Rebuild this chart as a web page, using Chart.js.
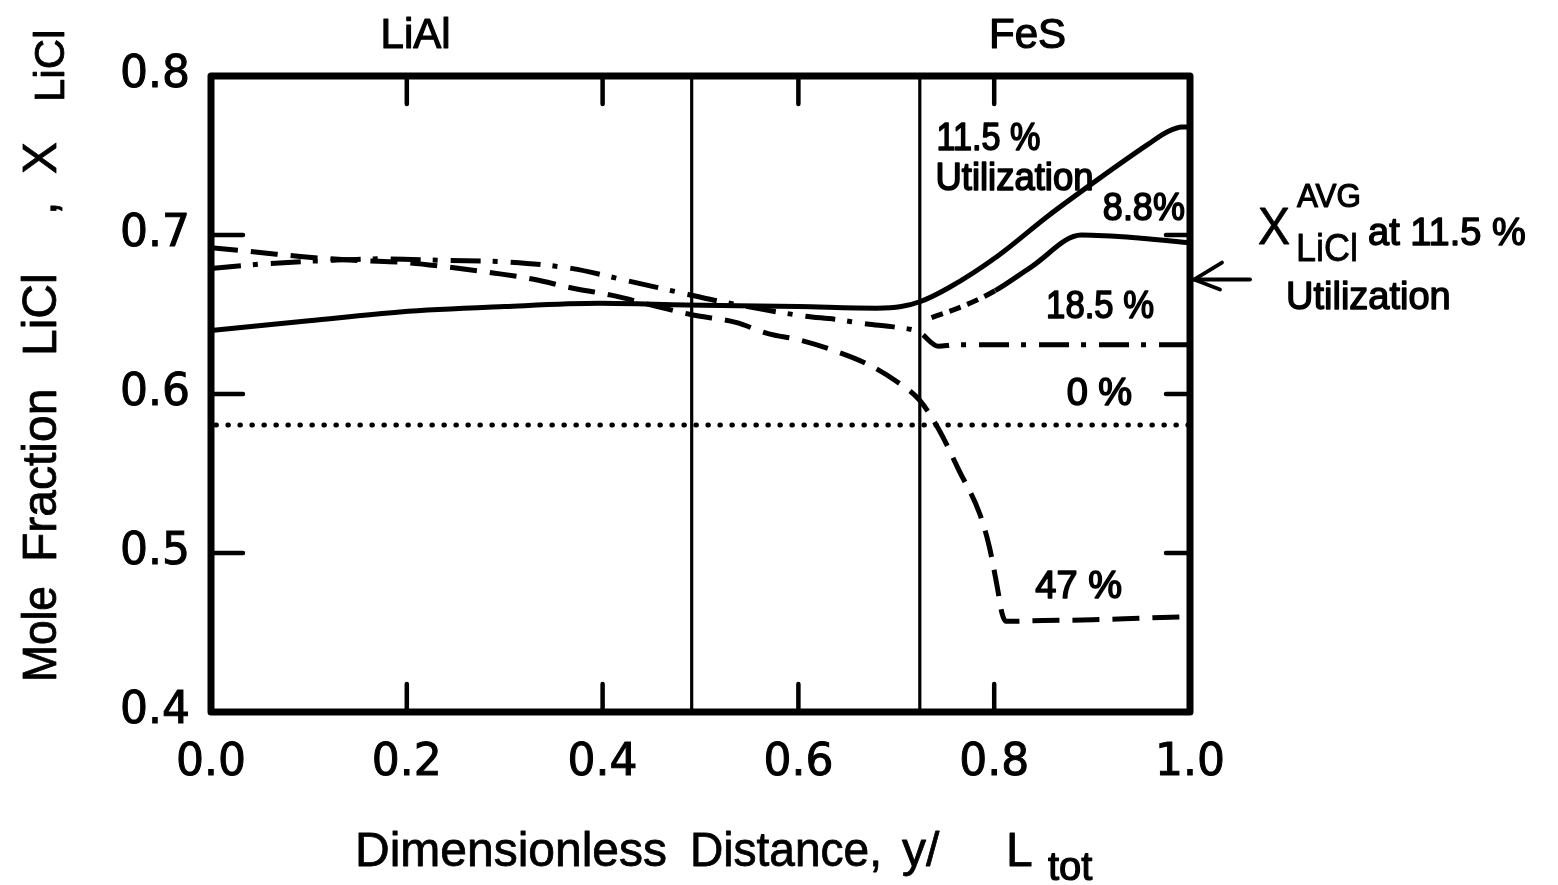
<!DOCTYPE html>
<html><head><meta charset="utf-8">
<script src="https://cdn.jsdelivr.net/npm/chart.js@4.4.0/dist/chart.umd.min.js"></script>
<style>html,body{margin:0;padding:0;background:#fff;overflow:hidden}#wrap{width:1558px;height:885px;position:relative}</style>
</head><body><div id="wrap"><canvas id="c" width="1558" height="885"></canvas></div>
<script>
// ---- data ----
const xTicks = [0, 0.2, 0.4, 0.6, 0.8, 1.0];
const yTicks = [0.4, 0.5, 0.6, 0.7, 0.8];
const innerXTicks = [0.2, 0.4, 0.6, 0.8];
const innerYTicks = [0.5, 0.6, 0.7];
const separators = [0.491, 0.724];
const regionLabels = ['LiAl', 'FeS'];
const regionCenters = [0.209, 0.834];

const dist115 = [0, 0.1, 0.193, 0.3, 0.397, 0.485, 0.6, 0.68, 0.705, 0.724, 0.754, 0.804, 0.855, 0.906, 0.957, 0.977, 0.992, 1.0];
const frac115 = [0.640, 0.646, 0.6516, 0.655, 0.657, 0.656, 0.655, 0.654, 0.655, 0.658, 0.667, 0.687, 0.712, 0.735, 0.757, 0.765, 0.768, 0.768];

const dist88 = [0.736, 0.771, 0.801, 0.838, 0.889, 0.95, 1.0];
const frac88 = [0.648, 0.656, 0.665, 0.680, 0.700, 0.698, 0.695];

const dist185 = [0, 0.058, 0.12, 0.172, 0.239, 0.303, 0.368, 0.427, 0.481, 0.514, 0.606, 0.637, 0.670, 0.699, 0.723, 0.743, 0.76, 1.0];
const frac185 = [0.679, 0.682, 0.684, 0.685, 0.684, 0.683, 0.679, 0.671, 0.6635, 0.659, 0.649, 0.647, 0.644, 0.642, 0.639, 0.630, 0.631, 0.631];

const dist0 = [0.005, 1.0];
const frac0 = [0.5805, 0.5805];

const dist47 = [0, 0.05, 0.1, 0.15, 0.2, 0.24, 0.29, 0.331, 0.366, 0.41, 0.456, 0.49, 0.536, 0.569, 0.601, 0.633, 0.67, 0.70, 0.724, 0.744, 0.764, 0.785, 0.795, 0.803, 0.808, 0.812, 0.85, 0.9, 0.95, 1.0];
const frac47 = [0.692, 0.689, 0.686, 0.684, 0.6826, 0.680, 0.676, 0.672, 0.667, 0.662, 0.655, 0.650, 0.645, 0.638, 0.634, 0.628, 0.619, 0.608, 0.596, 0.577, 0.552, 0.525, 0.504, 0.479, 0.462, 0.457, 0.4575, 0.458, 0.459, 0.460];

const avgFrac115 = 0.672;
const seriesLabels = ['11.5 %', '8.8%', '18.5 %', '0 %', '47 %'];

// ---- label placement (data coords: x, y baseline) ----
const labelSpots = [
  {t: '11.5 %', x: 0.741, y: 0.7535, w: 104},
  {t: 'Utilization', x: 0.740, y: 0.7283, w: 158},
  {t: '8.8%', x: 0.911, y: 0.7094, w: 82},
  {t: '18.5 %', x: 0.853, y: 0.6478, w: 108},
  {t: '0 %', x: 0.874, y: 0.593, w: 68},
  {t: '47 %', x: 0.842, y: 0.4717, w: 91}
];

const zip = (xs, ys) => xs.map((x, i) => ({x, y: ys[i]}));
const BLACK = '#000';
const base = {borderColor: BLACK, backgroundColor: BLACK, pointRadius: 0, fill: false, borderWidth: 5};

const datasets = [];
separators.forEach(s => datasets.push(Object.assign({}, base, {label: 'sep', data: [{x: s, y: 0.4}, {x: s, y: 0.8}], borderWidth: 3.2})));
datasets.push(Object.assign({}, base, {label: seriesLabels[3], data: zip(dist0, frac0), borderDash: [0.5, 11.5], borderCapStyle: 'round', borderWidth: 5}));
datasets.push(Object.assign({}, base, {label: seriesLabels[4], data: zip(dist47, frac47), borderDash: [27, 13], cubicInterpolationMode: 'monotone'}));
datasets.push(Object.assign({}, base, {label: seriesLabels[2], data: zip(dist185, frac185), borderDash: [30, 12, 5, 13], cubicInterpolationMode: 'monotone'}));
datasets.push(Object.assign({}, base, {label: seriesLabels[0], data: zip(dist115, frac115), cubicInterpolationMode: 'monotone'}));
datasets.push(Object.assign({}, base, {label: seriesLabels[1], data: zip(dist88, frac88), cubicInterpolationMode: 'monotone',
  segment: {borderDash: ctx => ctx.p1.parsed.x <= 0.8015 ? [12, 7] : []}}));

const SANS = '"Liberation Sans", Arial, sans-serif';

function txt(ctx, s, x, y, size, opts = {}) {
  ctx.save();
  ctx.font = (opts.weight || 'normal') + ' ' + size + 'px ' + (opts.family || SANS);
  ctx.fillStyle = BLACK;
  ctx.textAlign = opts.align || 'left';
  ctx.textBaseline = 'alphabetic';
  if (opts.w) ctx.fillText(s, x, y, opts.w); else ctx.fillText(s, x, y);
  if (opts.stroke) { ctx.lineWidth = opts.stroke; ctx.strokeStyle = BLACK; ctx.lineJoin = 'round'; if (opts.w) ctx.strokeText(s, x, y, opts.w); else ctx.strokeText(s, x, y); }
  ctx.restore();
}

const decor = {
  id: 'decor',
  afterDatasetsDraw(chart) {
    const {ctx, chartArea: a, scales: {x, y}} = chart;
    ctx.save();
    ctx.strokeStyle = BLACK;
    // frame
    ctx.lineWidth = 7;
    ctx.lineJoin = 'round';
    ctx.strokeRect(a.left, a.top, a.right - a.left, a.bottom - a.top);
    // inner ticks
    ctx.lineWidth = 4.5;
    ctx.lineCap = 'round';
    innerXTicks.forEach(v => {
      const px = x.getPixelForValue(v);
      ctx.beginPath(); ctx.moveTo(px, a.top); ctx.lineTo(px, a.top + 28); ctx.stroke();
      ctx.beginPath(); ctx.moveTo(px, a.bottom); ctx.lineTo(px, a.bottom - 28); ctx.stroke();
    });
    innerYTicks.forEach(v => {
      const py = y.getPixelForValue(v);
      ctx.beginPath(); ctx.moveTo(a.left, py); ctx.lineTo(a.left + 32, py); ctx.stroke();
      ctx.beginPath(); ctx.moveTo(a.right, py); ctx.lineTo(a.right - 24, py); ctx.stroke();
    });
    // arrow for average
    const ay = y.getPixelForValue(avgFrac115);
    ctx.lineWidth = 3.8;
    ctx.beginPath(); ctx.moveTo(a.right + 4, ay); ctx.lineTo(a.right + 60, ay); ctx.stroke();
    ctx.beginPath(); ctx.moveTo(a.right + 32, ay - 17); ctx.lineTo(a.right + 4, ay); ctx.lineTo(a.right + 30, ay + 10); ctx.stroke();
    ctx.restore();

    // in-plot labels
    labelSpots.forEach(l => txt(ctx, l.t, x.getPixelForValue(l.x), y.getPixelForValue(l.y), 38, {w: l.w, stroke: 1.6}));
    // region labels
    regionLabels.forEach((t, i) => txt(ctx, t, x.getPixelForValue(regionCenters[i]), a.top - 28, 42, {align: 'center', w: 80, stroke: 1.2}));

    // right annotation
    const R = a.right;
    txt(ctx, 'X', R + 68, ay - 36, 52, {w: 32, stroke: 0.8});
    txt(ctx, 'AVG', R + 107, ay - 73, 34, {w: 64, stroke: 1.2});
    txt(ctx, 'LiCl', R + 106, ay - 19, 38, {w: 62, stroke: 0.8});
    txt(ctx, 'at 11.5 %', R + 178, ay - 35, 38, {w: 170, stroke: 1.4});
    txt(ctx, 'Utilization', R + 96, ay + 29, 38, {w: 170, stroke: 1.4});

    // x axis title
    const tb = a.bottom + 154;
    txt(ctx, 'Dimensionless', 355, tb, 48, {w: 312, stroke: 0.8});
    txt(ctx, 'Distance,', 690, tb, 48, {w: 192, stroke: 0.8});
    txt(ctx, 'y/', 902, tb, 48, {stroke: 0.8});
    txt(ctx, 'L', 1006, tb, 48, {stroke: 0.8});
    txt(ctx, 'tot', 1048, tb + 14, 40, {stroke: 1.2});

    // y axis title (rotated)
    ctx.save();
    ctx.translate(56, 0);
    ctx.rotate(-Math.PI / 2);
    const word = (s, start, size, dx = 0, w) => txt(ctx, s, -start, dx, size, w ? {w, stroke: 0.8} : {stroke: 0.8});
    word('Mole', 682, 48, 0, 96);
    word('Fraction', 562, 48, 0, 178);
    word('LiCl', 356, 48, 0, 94);
    word(',', 215, 48);
    word('X', 174, 48, 0, 38);
    word('LiCl', 102, 42, 8, 86);
    ctx.restore();
  }
};

new Chart(document.getElementById('c'), {
  type: 'line',
  data: {datasets},
  options: {
    responsive: false,
    animation: false,
    devicePixelRatio: 1,
    layout: {padding: {top: 76, right: 368, left: 0, bottom: 0}},
    plugins: {legend: {display: false}, tooltip: {enabled: false}, title: {display: false}},
    scales: {
      x: {
        type: 'linear', min: 0, max: 1,
        afterBuildTicks: s => { s.ticks = xTicks.map(v => ({value: v})); },
        afterFit: s => { s.height = 173; },
        grid: {display: false, drawTicks: false},
        border: {display: false},
        ticks: {color: BLACK, font: {family: 'DejaVu Sans', size: 44}, padding: 25, maxRotation: 0, autoSkip: false,
          textStrokeColor: BLACK, textStrokeWidth: 1,
          callback: v => Number(v).toFixed(1)}
      },
      y: {
        type: 'linear', min: 0.4, max: 0.8,
        afterBuildTicks: s => { s.ticks = yTicks.map(v => ({value: v})); },
        afterFit: s => { s.width = 211; },
        grid: {display: false, drawTicks: false},
        border: {display: false},
        ticks: {color: BLACK, font: {family: 'DejaVu Sans', size: 44}, padding: 21, autoSkip: false,
          textStrokeColor: BLACK, textStrokeWidth: 1,
          callback: v => Number(v).toFixed(1)}
      }
    }
  },
  plugins: [decor]
});
</script></body></html>
